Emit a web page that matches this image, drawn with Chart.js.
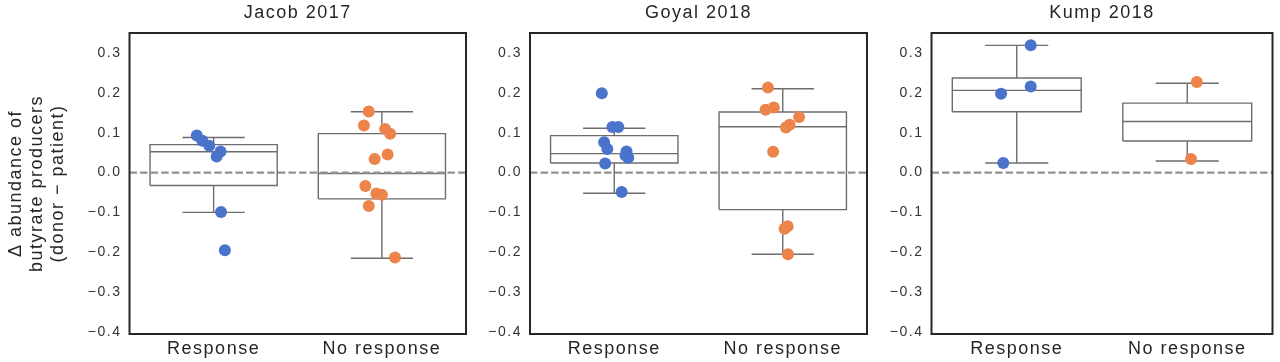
<!DOCTYPE html>
<html><head><meta charset="utf-8">
<script src="https://cdn.jsdelivr.net/npm/chart.js@4.4.1/dist/chart.umd.min.js"></script>
<style>
html,body{margin:0;padding:0;background:#fff;width:1280px;height:362px;overflow:hidden}
canvas{position:absolute;top:0}
</style></head>
<body>
<canvas id="c0" width="472" height="362" style="left:0px"></canvas>
<canvas id="c1" width="403" height="362" style="left:470px"></canvas>
<canvas id="c2" width="407" height="362" style="left:873px"></canvas>
<script>
// ---- data ----
const categories = ['Response', 'No response'];
const studies = ['Jacob 2017', 'Goyal 2018', 'Kump 2018'];
const yTicks = [-0.4, -0.3, -0.2, -0.1, 0.0, 0.1, 0.2, 0.3];
const yTitle = ['Δ abundance of', 'butyrate producers', '(donor − patient)'];

const jacobResponse = [0.093, 0.080, 0.067, 0.053, 0.040, -0.099, -0.195];
const jacobResponseJitter = [-0.100, -0.067, -0.026, 0.041, 0.018, 0.044, 0.067];
const jacobNoResponse = [0.153, 0.118, 0.109, 0.0975, 0.045, 0.034, -0.034, -0.0525, -0.056, -0.084, -0.213];
const jacobNoResponseJitter = [-0.078, -0.107, 0.019, 0.049, 0.034, -0.043, -0.098, -0.033, 0.000, -0.078, 0.078];

const goyalResponse = [0.199, 0.114, 0.114, 0.076, 0.059, 0.053, 0.0425, 0.037, 0.0225, -0.049];
const goyalResponseJitter = [-0.074, -0.011, 0.024, -0.060, -0.041, 0.073, 0.067, 0.083, -0.054, 0.044];
const goyalNoResponse = [0.213, 0.1575, 0.163, 0.139, 0.120, 0.113, 0.052, -0.135, -0.141, -0.205];
const goyalNoResponseJitter = [-0.088, -0.102, -0.053, 0.097, 0.041, 0.019, -0.057, 0.029, 0.011, 0.031];

const kumpResponse = [0.319, 0.216, 0.1975, 0.024];
const kumpResponseJitter = [0.082, 0.082, -0.092, -0.079];
const kumpNoResponse = [0.227, 0.034];
const kumpNoResponseJitter = [0.056, 0.022];

// box stats: [whisker low, q1, median, q3, whisker high] for Response, No response
const jacobBoxes = [[-0.100, -0.0325, 0.052, 0.070, 0.088], [-0.215, -0.066, -0.0025, 0.0975, 0.1525]];
const goyalBoxes = [[-0.052, 0.024, 0.0475, 0.0925, 0.111], [-0.205, -0.093, 0.115, 0.152, 0.210]];
const kumpBoxes  = [[0.024, 0.1525, 0.206, 0.237, 0.319], [0.029, 0.079, 0.128, 0.174, 0.224]];

// ---- styling ----
const FONT = "'Liberation Sans', Arial, sans-serif";
const BLUE = '#4a73cb';
const ORANGE = '#ec844c';
const BOX_HALF = 0.378;
const CAP_HALF = 0.185;

function boxLines(boxes) {
  const pts = [];
  boxes.forEach((b, c) => {
    const [mn, q1, md, q3, mx] = b;
    pts.push({x: c - BOX_HALF, y: q1}, {x: c + BOX_HALF, y: q1}, {x: c + BOX_HALF, y: q3}, {x: c - BOX_HALF, y: q3}, {x: c - BOX_HALF, y: q1}, {x: c, y: null});
    pts.push({x: c - BOX_HALF, y: md}, {x: c + BOX_HALF, y: md}, {x: c, y: null});
    pts.push({x: c, y: q3}, {x: c, y: mx}, {x: c, y: null});
    pts.push({x: c, y: q1}, {x: c, y: mn}, {x: c, y: null});
    pts.push({x: c - CAP_HALF, y: mx}, {x: c + CAP_HALF, y: mx}, {x: c, y: null});
    pts.push({x: c - CAP_HALF, y: mn}, {x: c + CAP_HALF, y: mn}, {x: c, y: null});
  });
  return pts;
}
function strip(values, jitter, c) {
  return values.map((v, i) => ({x: c + jitter[i], y: v}));
}

const framePlugin = {
  id: 'frame',
  beforeDraw(chart) { chart.ctx.letterSpacing = '1.5px'; },
  afterDraw(chart) {
    const {ctx, chartArea: a} = chart;
    ctx.save();
    ctx.strokeStyle = '#262626';
    ctx.lineWidth = 2;
    ctx.strokeRect(a.left, a.top, a.right - a.left, a.bottom - a.top);
    ctx.restore();
  }
};

function makePanel(id, idx, resp, respJ, nr, nrJ, boxes, yAxisWidth, rightPad) {
  const fmt = v => (v < 0 ? '−' : '') + Math.abs(v).toFixed(1);
  new Chart(document.getElementById(id), {
    type: 'scatter',
    data: {
      datasets: [
        {data: strip(resp, respJ, 0), backgroundColor: BLUE, borderWidth: 0, pointRadius: 6, order: 0},
        {data: strip(nr, nrJ, 1), backgroundColor: ORANGE, borderWidth: 0, pointRadius: 6, order: 0},
        {data: [{x: -0.5, y: 0}, {x: 1.5, y: 0}], showLine: true, borderColor: '#919191', borderWidth: 2.3,
         borderDash: [7.4, 3.2], pointRadius: 0, order: 1},
        {data: boxLines(boxes), showLine: true, spanGaps: false, borderColor: '#6d6d6d', borderWidth: 1.4,
         pointRadius: 0, order: 2}
      ]
    },
    options: {
      responsive: false,
      animation: false,
      events: [],
      layout: {padding: {left: 0, right: rightPad, top: 0, bottom: 0}},
      plugins: {
        legend: {display: false},
        tooltip: {enabled: false},
        title: {display: true, text: studies[idx], fullSize: false, color: '#262626',
                font: {family: FONT, size: 18, weight: 'normal'}, padding: {top: 2, bottom: 9.4}}
      },
      scales: {
        x: {
          type: 'linear', min: -0.5, max: 1.5,
          grid: {display: false, drawTicks: false},
          border: {display: false},
          afterBuildTicks: s => { s.ticks = categories.map((c, i) => ({value: i})); },
          afterFit: s => { s.height = 28; },
          ticks: {color: '#262626', padding: 4, font: {family: FONT, size: 18},
                  callback: (v) => categories[v]}
        },
        y: {
          min: -0.405, max: 0.35,
          grid: {display: false, drawTicks: false},
          border: {display: false},
          afterBuildTicks: s => { s.ticks = yTicks.map(v => ({value: v})); },
          afterFit: s => { s.width = yAxisWidth; },
          ticks: {color: '#333', padding: 8, font: {family: FONT, size: 14}, callback: v => fmt(v)},
          title: {display: idx === 0, text: yTitle, color: '#262626',
                  font: {family: FONT, size: 18, lineHeight: 1.16}, padding: {top: 6, bottom: 0}}
        }
      }
    },
    plugins: [framePlugin]
  });
}

makePanel('c0', 0, jacobResponse, jacobResponseJitter, jacobNoResponse, jacobNoResponseJitter, jacobBoxes, 129.5, 2);
makePanel('c1', 1, goyalResponse, goyalResponseJitter, goyalNoResponse, goyalNoResponseJitter, goyalBoxes, 60, 2);
makePanel('c2', 2, kumpResponse, kumpResponseJitter, kumpNoResponse, kumpNoResponseJitter, kumpBoxes, 58.5, 7.5);
</script>
</body></html>
